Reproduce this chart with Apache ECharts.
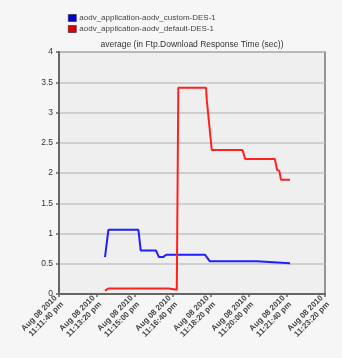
<!DOCTYPE html>
<html><head><meta charset="utf-8">
<script src="https://cdn.jsdelivr.net/npm/echarts@6/dist/echarts.min.js"></script>
<style>html,body{margin:0;padding:0;background:#f6f6f6;}#c{width:342px;height:358px;}</style>
</head><body><div id="c"></div>
<script>
// seconds after 11:11:40 pm
const tickLabels = ["Aug 08 2010\n11:11:40 pm","Aug 08 2010\n11:13:20 pm","Aug 08 2010\n11:15:00 pm","Aug 08 2010\n11:16:40 pm","Aug 08 2010\n11:18:20 pm","Aug 08 2010\n11:20:00 pm","Aug 08 2010\n11:21:40 pm","Aug 08 2010\n11:23:20 pm"];
const seriesNames = ["aodv_application-aodv_custom-DES-1","aodv_application-aodv_default-DES-1"];
const customT = [121,130,209,215,255,263,274,282,384,397,520,524,608];
const customV = [0.61,1.06,1.06,0.72,0.72,0.61,0.61,0.65,0.65,0.54,0.54,0.51,0.51];
const defaultT = [121,130,288,292,310,314,387,389,402,483,490,568,574,580,584,608];
const defaultV = [0.055,0.09,0.09,0.07,0.07,3.41,3.41,3.2,2.38,2.38,2.23,2.23,2.05,2.03,1.89,1.89];

const zip=(t,v)=>t.map((x,i)=>[x,v[i]]);
const chart = echarts.init(document.getElementById('c'));
chart.setOption({
  backgroundColor:'#f6f6f6',
  animation:false,
  title:{text:'average (in Ftp.Download Response Time (sec))',left:192,textAlign:'center',top:40,padding:0,
    textStyle:{fontSize:8.5,fontWeight:'normal',color:'#333',fontFamily:'Liberation Sans'}},
  legend:{orient:'vertical',left:68,top:14,padding:0,itemGap:3,itemWidth:8,itemHeight:7,icon:'rect',
    textStyle:{fontSize:8,color:'#444',fontFamily:'Liberation Sans',padding:[0,0,0,-2]},
    data:seriesNames.map((n,i)=>({name:n,itemStyle:{color:i?'#e00000':'#0000d0',borderColor:'#222',borderWidth:0.6}}))},
  grid:{left:59,right:17,top:52,bottom:64,show:true,backgroundColor:'#efefef',borderColor:'#777',borderWidth:1.5},
  xAxis:{type:'value',min:0,max:700,interval:100,
    axisLine:{show:true,lineStyle:{color:'#666',width:2}},
    axisTick:{show:true,length:3,lineStyle:{color:'#666',width:1.5}},
    splitLine:{show:false},
    axisLabel:{rotate:45,fontSize:8,fontWeight:'bold',color:'#444',lineHeight:9,margin:6,
      fontFamily:'Liberation Sans',
      formatter:v=>tickLabels[Math.round(v/100)]}},
  yAxis:{type:'value',min:0,max:4,interval:0.5,
    axisLine:{show:true,lineStyle:{color:'#666',width:2}},
    axisTick:{show:true,length:3,lineStyle:{color:'#666',width:1.5}},
    splitLine:{show:true,lineStyle:{color:'#c4c4c4',width:1.5}},
    axisLabel:{fontSize:8.5,color:'#333',margin:6,fontFamily:'Liberation Sans'}},
  series:[
    {name:seriesNames[0],type:'line',data:zip(customT,customV),symbol:'none',color:'#1f1fff',
      lineStyle:{width:2,color:'#1f1fff'}},
    {name:seriesNames[1],type:'line',data:zip(defaultT,defaultV),symbol:'none',color:'#ff2020',
      lineStyle:{width:2,color:'#ff2020'}}
  ]
});
</script></body></html>
